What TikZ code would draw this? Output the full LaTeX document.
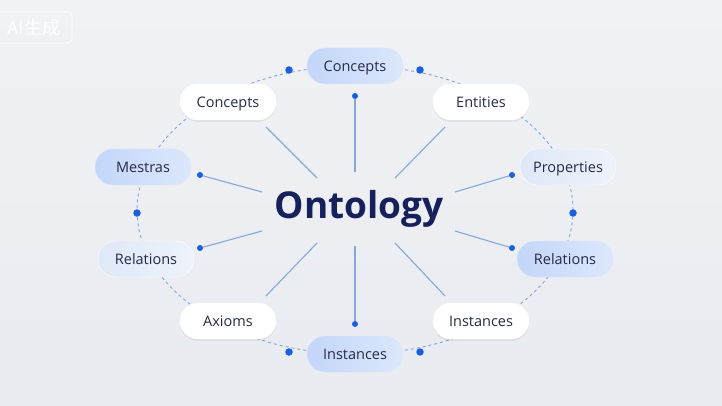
\documentclass[tikz,border=0pt]{standalone}
\usepackage{fontspec}
\setmainfont{Open Sans}
\newfontfamily\cjkfont{Noto Sans CJK SC}
\usetikzlibrary{shadows}
\definecolor{bgA}{HTML}{F1F2F5}
\definecolor{bgB}{HTML}{E8EBF0}
\definecolor{txt}{HTML}{262A45}
\definecolor{navy}{HTML}{16215C}
\definecolor{blueA}{HTML}{C3D6FA}
\definecolor{blueB}{HTML}{DCE7FB}
\definecolor{pale}{HTML}{E2EAF8}
\definecolor{spokec}{HTML}{86A8DC}
\definecolor{dashc}{HTML}{7FA6E0}
\definecolor{dotc}{HTML}{1A5FE2}
\begin{document}
\begin{tikzpicture}[x=1pt,y=-1pt,
  pill/.style={rounded corners=18pt, minimum width=96pt, minimum height=36pt,
    font=\fontsize{14.5}{16}\selectfont, text=txt, inner sep=0pt,
    text height=12pt, text depth=1pt},
  whitepill/.style={pill, fill=white, draw=white,
    drop shadow={shadow xshift=0pt, shadow yshift=-2pt, opacity=0.06, fill=black}},
  bluepill/.style={pill, left color=blueA, right color=blueB, draw=blueB},
  palepill/.style={pill, left color=pale!90!blueA, right color=pale!60!white, draw=white},
  spoke/.style={draw=spokec, line width=1.1pt},
  dot/.style={circle, fill=dotc, inner sep=0pt, minimum size=6pt},
  bigdot/.style={circle, fill=dotc, inner sep=0pt, minimum size=7.5pt},
  ring/.style={draw=dashc, line width=0.9pt, dash pattern=on 3pt off 3pt}]
% background
\shade[top color=bgA, bottom color=bgB] (0,0) rectangle (722,406);
\useasboundingbox (0,0) rectangle (722,406);
% watermark
\draw[white, opacity=0.85, line width=1pt, rounded corners=4pt] (-6,12) rectangle (72,43);
\node[text=white, opacity=0.95, font=\cjkfont\fontsize{18}{20}\selectfont] (wm) at (34,28) {AI生成};
% dashed ring
\draw[ring] (355,210) ellipse [x radius=218pt, y radius=144pt];
% ring dots
\node[bigdot] (r1) at (289,70) {};
\node[bigdot] (r2) at (420,70) {};
\node[bigdot] (r3) at (137,213) {};
\node[bigdot] (r4) at (573,213) {};
\node[bigdot] (r5) at (289,352) {};
\node[bigdot] (r6) at (420,352) {};
% outer nodes
\node[bluepill] (ctop) at (355,66) {Concepts};
\node[whitepill] (cleft) at (228,102) {Concepts};
\node[whitepill] (ent) at (481,102) {Entities};
\node[bluepill] (mes) at (143,167) {Mestras};
\node[palepill] (prop) at (568,167) {Properties};
\node[palepill] (relL) at (146,259) {Relations};
\node[bluepill] (relR) at (565,259) {Relations};
\node[whitepill] (ax) at (228,321) {Axioms};
\node[whitepill] (insR) at (481,321) {Instances};
\node[bluepill] (insB) at (355,354) {Instances};
% center
\node[text=navy, font=\bfseries\fontsize{37}{40}\selectfont] (onto) at (359,209) {Ontology};
% spoke ends
\node[dot] (d1) at (355,96) {};
\node[dot] (d2) at (355,324) {};
\node[dot] (d3) at (200,175) {};
\node[dot] (d4) at (512,175) {};
\node[dot] (d5) at (200,248) {};
\node[dot] (d6) at (512,248) {};
\coordinate (e1) at (266,127);
\coordinate (e2) at (445,127);
\coordinate (e3) at (266,296);
\coordinate (e4) at (445,296);
\coordinate (c1) at (355,172);
\coordinate (c2) at (355,246);
\coordinate (c3) at (262,192);
\coordinate (c4) at (455,192);
\coordinate (c5) at (262,231);
\coordinate (c6) at (455,231);
\coordinate (c7) at (317,178);
\coordinate (c8) at (395,178);
\coordinate (c9) at (317,243);
\coordinate (c10) at (395,243);
\draw[spoke] (d1) -- (c1);
\draw[spoke] (d2) -- (c2);
\draw[spoke] (d3) -- (c3);
\draw[spoke] (d4) -- (c4);
\draw[spoke] (d5) -- (c5);
\draw[spoke] (d6) -- (c6);
\draw[spoke] (e1) -- (c7);
\draw[spoke] (e2) -- (c8);
\draw[spoke] (e3) -- (c9);
\draw[spoke] (e4) -- (c10);
\end{tikzpicture}
\end{document}
